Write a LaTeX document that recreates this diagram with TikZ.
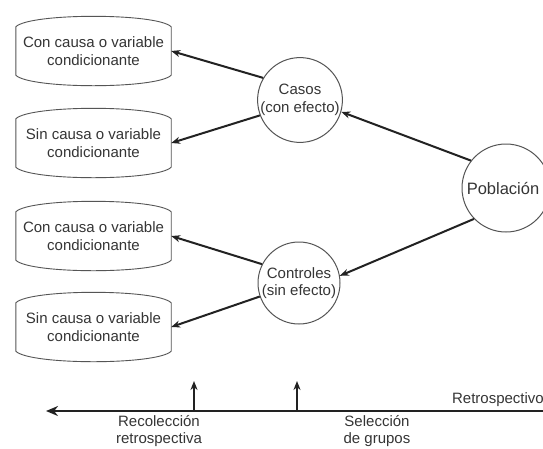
\documentclass[tikz,border=0pt]{standalone}
\usepackage{fontspec}
\setmainfont{Liberation Sans}
\usetikzlibrary{arrows.meta}
\definecolor{txt}{HTML}{353535}
\definecolor{ln}{HTML}{222222}
\definecolor{edge}{HTML}{555555}
\newcommand\boxoutline[1]{%
  \draw[boxline] (#1.north west)
    .. controls ([xshift=14pt,yshift=14pt]#1.north west) and ([xshift=-14pt,yshift=14pt]#1.north east) .. (#1.north east)
    -- (#1.south east)
    .. controls ([xshift=-14pt,yshift=-14pt]#1.south east) and ([xshift=14pt,yshift=-14pt]#1.south west) .. (#1.south west)
    -- cycle;}
\tikzset{
  every node/.style={text=txt, font=\fontsize{15}{17.5}\selectfont},
  condbox/.style={minimum width=155pt, minimum height=48pt, inner sep=0pt, align=center},
  boxline/.style={draw=edge, line width=0.9pt},
  grp/.style={circle, draw=edge, line width=1pt, inner sep=0pt, align=center},
  arr/.style={draw=ln, line width=2pt, -{Stealth[length=9pt,width=7pt]}},
  axis/.style={draw=ln, line width=2.6pt, -{Stealth[length=12pt,width=10pt]}},
  lbl/.style={align=center}
}
\begin{document}
\begin{tikzpicture}[x=1pt,y=-1pt]
\clip (0,0) rectangle (543,448);
\fill[white] (0,0) rectangle (543,448);
% condition boxes
\node[condbox] (b1) at (93.5,51)  {Con causa o variable\\condicionante};
\node[condbox] (b2) at (93.5,143) {Sin causa o variable\\condicionante};
\node[condbox] (b3) at (93.5,236) {Con causa o variable\\condicionante};
\node[condbox] (b4) at (93.5,327) {Sin causa o variable\\condicionante};
\boxoutline{b1}
\boxoutline{b2}
\boxoutline{b3}
\boxoutline{b4}
% groups
\node[grp, minimum size=84pt] (casos) at (300,100) {Casos\\(con efecto)};
\node[grp, minimum size=82pt] (ctrl) at (299,283) {Controles\\(sin efecto)};
\node[grp, minimum size=88pt, font=\fontsize{16.5}{19}\selectfont] (pob) at (506,188) {\hspace*{-6pt}Población};
% connectors
\draw[arr] (casos.149) -- (b1.east);
\draw[arr] (casos.201) -- (b2.east);
\draw[arr] (ctrl.153) -- (b3.east);
\draw[arr] (ctrl.199) -- (b4.east);
\draw[arr] (pob.142) -- (casos.-16);
\draw[arr] (pob.224) -- (ctrl.10);
% timeline
\coordinate (tR) at (545,411);
\coordinate (tL) at (46,411);
\coordinate (v1b) at (194,411);
\coordinate (v1t) at (194,381);
\coordinate (v2b) at (297,411);
\coordinate (v2t) at (297,381);
\draw[axis] (tR) -- (tL);
\draw[arr] (v1b) -- (v1t);
\draw[arr] (v2b) -- (v2t);
\node[anchor=south east, inner sep=0pt] (retro) at (544,407) {Retrospectivo};
\node[lbl, inner sep=0pt] (rec) at (159,431) {Recolección\\retrospectiva};
\node[lbl, inner sep=0pt] (sel) at (377,431) {Selección\\de grupos};
\end{tikzpicture}
\end{document}
